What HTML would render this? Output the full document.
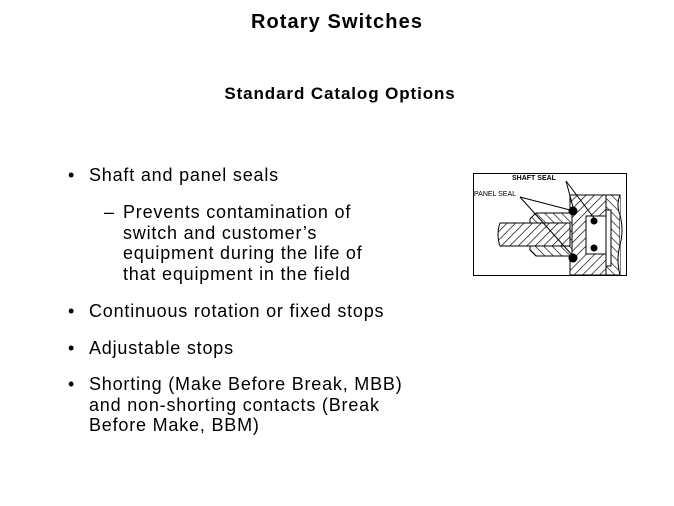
<!DOCTYPE html>
<html><head><style>
body{margin:0;width:674px;height:506px;background:#fff;font-family:"Liberation Sans",sans-serif;position:relative;overflow:hidden;color:#000}
.t{position:absolute;white-space:nowrap}
.b{font-size:18px;line-height:20px;letter-spacing:0.8px}
</style></head><body>
<div class="t" style="left:0;width:674px;text-align:center;top:11px;font-size:20px;font-weight:bold;letter-spacing:1.1px">Rotary Switches</div>
<div class="t" style="left:0;width:680px;text-align:center;top:84px;font-size:17px;font-weight:bold;letter-spacing:0.9px">Standard Catalog Options</div>
<div class="t b" style="left:68px;top:165px">•</div><div class="t b" style="left:89px;top:165px">Shaft and panel seals</div>
<div class="t b" style="left:104px;top:202px">–</div>
<div class="t b" style="left:123px;top:202px;line-height:20.7px">Prevents contamination of<br>switch and customer’s<br>equipment during the life of<br>that equipment in the field</div>
<div class="t b" style="left:68px;top:301px">•</div><div class="t b" style="left:89px;top:301px">Continuous rotation or fixed stops</div>
<div class="t b" style="left:68px;top:338px">•</div><div class="t b" style="left:89px;top:338px">Adjustable stops</div>
<div class="t b" style="left:68px;top:374px">•</div><div class="t b" style="left:89px;top:374px;line-height:20.5px">Shorting (Make Before Break, MBB)<br>and non-shorting contacts (Break<br>Before Make, BBM)</div>
<svg style="position:absolute;left:0;top:0" width="674" height="506">
<defs>
<pattern id="h" width="6" height="6" patternUnits="userSpaceOnUse" patternTransform="rotate(45)"><rect width="6" height="6" fill="#fff"/><line x1="0" y1="0" x2="0" y2="6" stroke="#000" stroke-width="1.3"/></pattern>
<pattern id="h2" width="6" height="6" patternUnits="userSpaceOnUse" patternTransform="rotate(-45)"><rect width="6" height="6" fill="#fff"/><line x1="0" y1="0" x2="0" y2="6" stroke="#000" stroke-width="1.3"/></pattern>
</defs>
<rect x="473.5" y="173.5" width="153" height="102" fill="#fff" stroke="#000"/>
<rect x="570" y="195" width="36" height="80" fill="url(#h)" stroke="#000"/>
<rect x="606" y="195" width="14" height="80" fill="url(#h2)" stroke="#000"/>
<rect x="606" y="210" width="5" height="56" fill="#fff" stroke="#000"/>
<path d="M620 195 q-4 10 0 20 q4 15 0 30 q-4 15 0 30" fill="#fff" stroke="#000"/>
<path d="M536 213 L572 213 L572 256 L536 256 L530 250 L530 219 Z" fill="url(#h2)" stroke="#000"/>
<path d="M500 223 L570 223 L570 246 L500 246 Q496 234.5 500 223 Z" fill="url(#h)" stroke="#000"/>
<rect x="586" y="216" width="20" height="38" fill="#fff" stroke="#000"/>
<circle cx="573" cy="211" r="4.5"/><circle cx="573" cy="258" r="4.5"/>
<circle cx="594" cy="221" r="3.5"/><circle cx="594" cy="248" r="3.5"/>
<line x1="566" y1="181" x2="573" y2="207" stroke="#000"/>
<line x1="566" y1="181" x2="594" y2="218" stroke="#000"/>
<line x1="520" y1="197" x2="570" y2="210" stroke="#000"/>
<line x1="520" y1="197" x2="572" y2="255" stroke="#000"/>
<text x="512" y="180" font-size="7" font-weight="bold" font-family="Liberation Sans">SHAFT SEAL</text>
<text x="474" y="196" font-size="7" font-family="Liberation Sans">PANEL SEAL</text>
</svg>
</body></html>
